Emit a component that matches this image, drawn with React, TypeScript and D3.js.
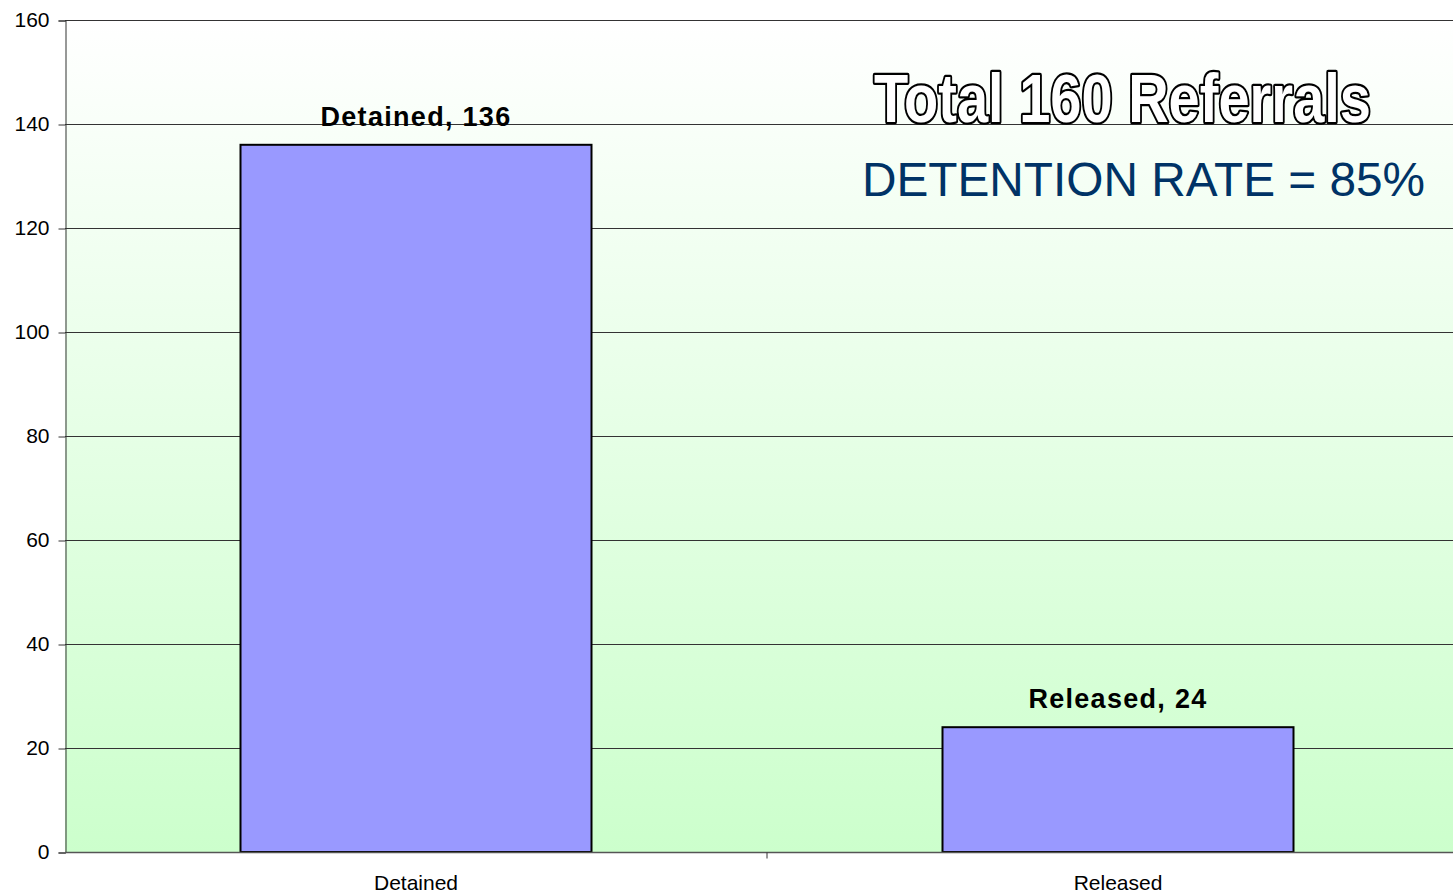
import * as React from 'react'
import { useEffect, useRef } from 'react'
import * as d3 from 'd3'

const categories = ['Detained', 'Released']
const counts = [136, 24]
const yTicks = [0, 20, 40, 60, 80, 100, 120, 140, 160]
const title = 'Total 160 Referrals'
const subtitle = 'DETENTION RATE = 85%'

const width = 1453
const height = 894
const margin = { top: 20, left: 65, bottom: 42 }
const plotRight = 1469

const App = () => {
  const ref = useRef<SVGSVGElement | null>(null)

  useEffect(() => {
    const svg = d3.select(ref.current)
    svg.selectAll('*').remove()

    const x = d3.scaleBand<string>().domain(categories).range([margin.left, plotRight]).paddingInner(0.5).paddingOuter(0.25)
    const y = d3.scaleLinear().domain([0, 160]).range([height - margin.bottom, margin.top])

    const defs = svg.append('defs')
    const grad = defs.append('linearGradient').attr('id', 'bg').attr('x1', 0).attr('y1', 0).attr('x2', 0).attr('y2', 1)
    grad.append('stop').attr('offset', '0%').attr('stop-color', '#ffffff')
    grad.append('stop').attr('offset', '100%').attr('stop-color', '#ccffcc')

    svg.append('rect')
      .attr('x', margin.left).attr('y', y(160))
      .attr('width', width - margin.left).attr('height', y(0) - y(160))
      .attr('fill', 'url(#bg)')

    // gridlines
    svg.append('g').selectAll('line')
      .data(yTicks.filter(d => d > 0))
      .enter().append('line')
      .attr('x1', margin.left).attr('x2', width)
      .attr('y1', d => y(d) + 0.5).attr('y2', d => y(d) + 0.5)
      .attr('stroke', '#333').attr('stroke-width', 1)

    // y axis
    const yAxis = svg.append('g').attr('transform', `translate(${margin.left + 0.5},0.5)`)
      .call(d3.axisLeft(y).tickValues(yTicks).tickSize(7).tickPadding(9))
    yAxis.select('.domain').attr('stroke', '#333')
    yAxis.selectAll('line').attr('stroke', '#333')
    yAxis.selectAll('text').attr('font-family', 'Liberation Sans, Arial, sans-serif').attr('font-size', 21).attr('fill', '#000').attr('dy', '0.3em')

    // bars
    svg.append('g').selectAll('rect')
      .data(counts)
      .enter().append('rect')
      .attr('x', (d, i) => x(categories[i]) as number)
      .attr('y', d => y(d))
      .attr('width', x.bandwidth())
      .attr('height', d => y(0) - y(d))
      .attr('fill', '#9999ff')
      .attr('stroke', '#000').attr('stroke-width', 2)

    // x axis
    const xAxis = svg.append('g').attr('transform', `translate(0,${y(0) + 0.5})`)
    xAxis.append('line').attr('x1', margin.left).attr('x2', width).attr('stroke', '#555').attr('stroke-width', 1.5)
    const mid = (x(categories[0])! + x.bandwidth() + x(categories[1])!) / 2
    xAxis.append('line').attr('x1', mid).attr('x2', mid).attr('y1', 0).attr('y2', 6).attr('stroke', '#333')
    xAxis.selectAll('text.cat')
      .data(categories)
      .enter().append('text')
      .attr('class', 'cat')
      .attr('x', d => (x(d) as number) + x.bandwidth() / 2)
      .attr('y', 37)
      .attr('text-anchor', 'middle')
      .attr('font-family', 'Liberation Sans, Arial, sans-serif')
      .attr('font-size', 21)
      .text(d => d)

    // data labels
    svg.append('g').selectAll('text')
      .data(counts)
      .enter().append('text')
      .attr('x', (d, i) => (x(categories[i]) as number) + x.bandwidth() / 2)
      .attr('y', d => y(d) - 19)
      .attr('text-anchor', 'middle')
      .attr('font-family', 'Liberation Sans, Arial, sans-serif')
      .attr('font-weight', 'bold')
      .attr('font-size', 27)
      .attr('letter-spacing', 1.3)
      .text((d, i) => `${categories[i]}, ${d}`)

    // outlined headline, squeezed sideways and stretched up
    svg.append('text')
      .attr('transform', 'translate(874,122) scale(1,1.15)')
      .attr('font-family', 'Liberation Sans, Arial, sans-serif')
      .attr('font-weight', 'bold')
      .attr('font-size', 60)
      .attr('fill', '#fff')
      .attr('stroke', '#000').attr('stroke-width', 4)
      .attr('stroke-linejoin', 'round')
      .attr('paint-order', 'stroke')
      .attr('textLength', 497).attr('lengthAdjust', 'spacingAndGlyphs')
      .text(title)

    svg.append('text')
      .attr('x', 862).attr('y', 196)
      .attr('font-family', 'Liberation Sans, Arial, sans-serif')
      .attr('font-size', 48)
      .attr('fill', '#003366')
      .attr('textLength', 563).attr('lengthAdjust', 'spacingAndGlyphs')
      .text(subtitle)
  }, [])

  return (
    <div style={{ position: 'absolute', left: 0, top: 0, width, height, overflow: 'hidden', background: '#fff' }}>
      <svg ref={ref} width={width} height={height} />
    </div>
  )
}

export default App
